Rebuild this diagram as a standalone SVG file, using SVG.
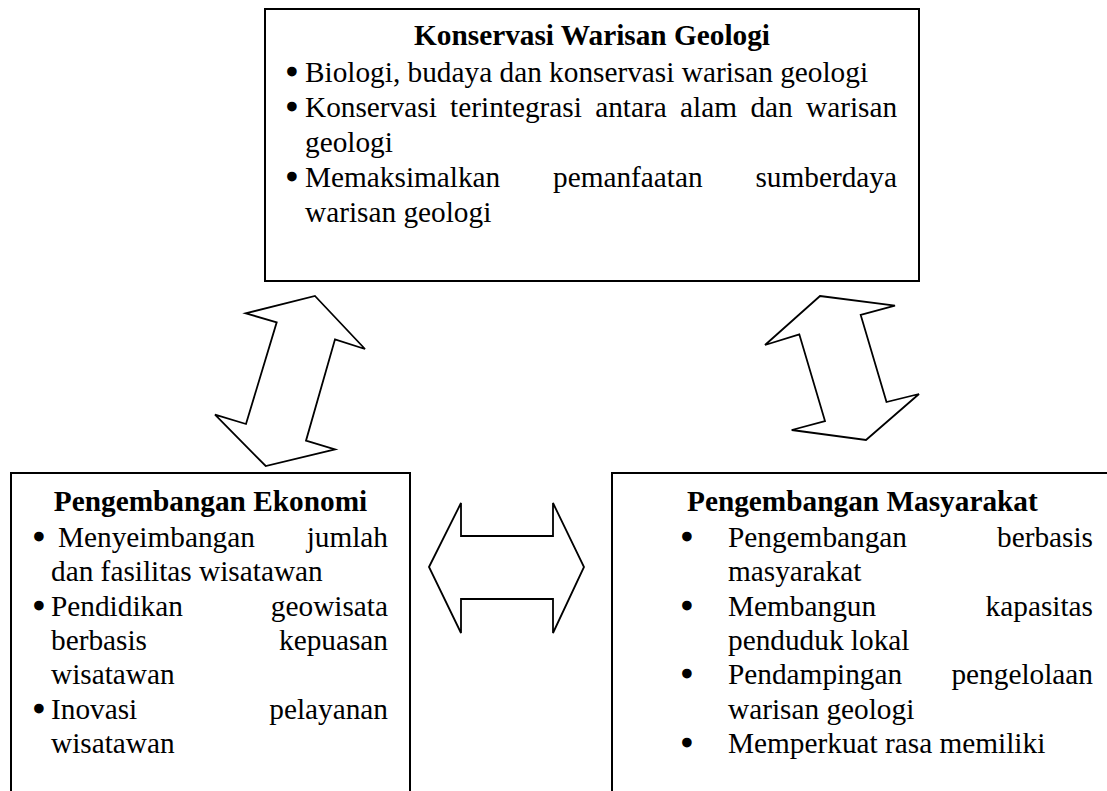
<svg xmlns="http://www.w3.org/2000/svg" width="1107" height="791" viewBox="0 0 1107 791">
  <style>
    .box { fill: #ffffff; stroke: #000000; stroke-width: 2; }
    .arrow { fill: #ffffff; stroke: #000000; stroke-width: 1.8; stroke-linejoin: miter; }
    text { font-family: "Liberation Serif", "Times New Roman", serif; font-size: 29.3px; fill: #000000; }
    .head { font-weight: bold; }
    .end { text-anchor: end; }
    .mid { text-anchor: middle; }
    .dot { text-anchor: middle; stroke: #000000; stroke-width: 2.6; stroke-linejoin: round; }
  </style>
  <rect width="1107" height="791" fill="#ffffff"/>

  <!-- two-way arrows between the three boxes -->
  <g id="connectors">
    <polygon class="arrow" points="315,296 365,349 335,339.3 306,440.7 335,449.3 265.7,466 215,414.7 246,424 276.7,322.3 245.7,313.3"/>
    <polygon class="arrow" points="820,296 895,305.6 860.7,315 886.5,402 919,394 866,440 791.7,430 825,421 799.3,334.3 765,345"/>
    <polygon class="arrow" points="429,567 461,503 461,536 553,536 553,503 584,567 553,633 553,599 461,599 461,633"/>
  </g>

  <!-- top box: geological heritage conservation -->
  <g id="node-conservation">
    <rect class="box" x="265" y="9" width="654" height="272"/>
    <text class="head mid" x="592" y="45">Konservasi Warisan Geologi</text>
    <text class="dot" x="292" y="82">•</text>
    <text x="305" y="82">Biologi, budaya dan konservasi warisan geologi</text>
    <text class="dot" x="292" y="117">•</text>
    <text y="117"><tspan x="305">Konservasi</tspan><tspan x="450.1">terintegrasi</tspan><tspan x="595.2">antara</tspan><tspan x="680.1">alam</tspan><tspan x="750.4">dan</tspan><tspan x="806">warisan</tspan></text>
    <text x="305" y="152">geologi</text>
    <text class="dot" x="292" y="187">•</text>
    <text x="305" y="187">Memaksimalkan</text>
    <text x="553" y="187">pemanfaatan</text>
    <text class="end" x="897" y="187">sumberdaya</text>
    <text x="305" y="222">warisan geologi</text>
  </g>

  <!-- bottom left box: economic development -->
  <g id="node-economy">
    <rect class="box" x="11" y="473" width="399" height="340"/>
    <text class="head mid" x="210.5" y="511">Pengembangan Ekonomi</text>
    <text class="dot" x="39" y="547">•</text>
    <text x="58" y="547">Menyeimbangan</text>
    <text class="end" x="388" y="547">jumlah</text>
    <text x="51" y="581">dan fasilitas wisatawan</text>
    <text class="dot" x="39" y="615.5">•</text>
    <text x="51" y="615.5">Pendidikan</text>
    <text class="end" x="388" y="615.5">geowisata</text>
    <text x="51" y="649.5">berbasis</text>
    <text class="end" x="388" y="649.5">kepuasan</text>
    <text x="51" y="684">wisatawan</text>
    <text class="dot" x="39" y="718.5">•</text>
    <text x="51" y="718.5">Inovasi</text>
    <text class="end" x="388" y="718.5">pelayanan</text>
    <text x="51" y="753">wisatawan</text>
  </g>

  <!-- bottom right box: community development -->
  <g id="node-community">
    <rect class="box" x="612" y="473" width="503" height="340"/>
    <text class="head" x="687" y="511">Pengembangan Masyarakat</text>
    <text class="dot" x="687" y="547">•</text>
    <text x="728" y="547">Pengembangan</text>
    <text class="end" x="1093" y="547">berbasis</text>
    <text x="728" y="581">masyarakat</text>
    <text class="dot" x="687" y="615.5">•</text>
    <text x="728" y="615.5">Membangun</text>
    <text class="end" x="1093" y="615.5">kapasitas</text>
    <text x="728" y="649.5">penduduk lokal</text>
    <text class="dot" x="687" y="684">•</text>
    <text x="728" y="684">Pendampingan</text>
    <text class="end" x="1093" y="684">pengelolaan</text>
    <text x="728" y="718.5">warisan geologi</text>
    <text class="dot" x="687" y="753">•</text>
    <text x="728" y="753">Memperkuat rasa memiliki</text>
  </g>
</svg>
